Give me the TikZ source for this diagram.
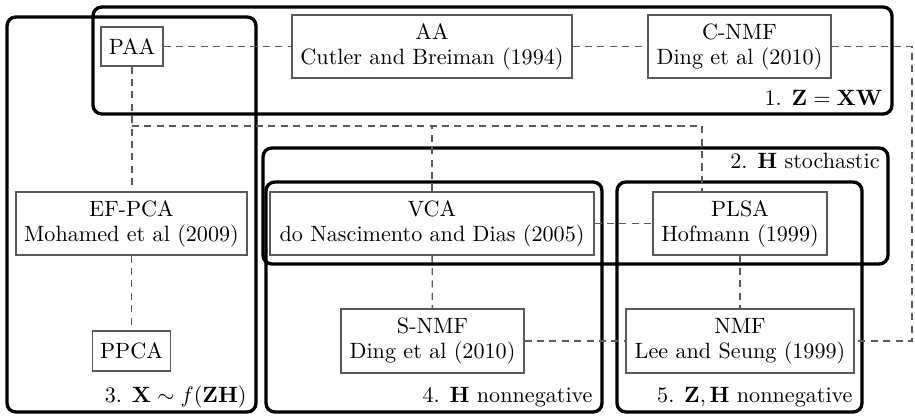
\documentclass[tikz,border=0pt]{standalone}
\begin{document}
\begin{tikzpicture}[x=0.4517pt,y=-0.4517pt,
  sz/.style 2 args={minimum width=#1*0.4517pt, minimum height=#2*0.4517pt},
  method/.style={draw=black!65, line width=0.5pt, inner sep=0pt, align=center,
    font=\fontsize{10}{11.3}\selectfont},
  group/.style={draw=black, line width=1.5pt, rounded corners=4pt},
  grouplabel/.style={anchor=base east, inner sep=0pt, font=\fontsize{10}{12}\selectfont},
  link/.style={draw=black!65, line width=0.6pt, dash pattern=on 3.2pt off 2.4pt}]
\useasboundingbox (0,0) rectangle (915,415);

% groups
\draw[group] (93,7) rectangle (892,114);
\draw[group] (7,17) rectangle (256,412);
\draw[group] (263,148) rectangle (888,264);
\draw[group] (266,182) rectangle (602,412);
\draw[group] (617,182) rectangle (862,412);

\node[grouplabel] (l1) at (883,105) {1. $\mathbf{Z}=\mathbf{XW}$};
\node[grouplabel] (l2) at (880,168) {2. $\mathbf{H}$ stochastic};
\node[grouplabel] (l3) at (247,402) {3. $\mathbf{X}\sim f(\mathbf{ZH})$};
\node[grouplabel] (l4) at (593,402) {4. $\mathbf{H}$ nonnegative};
\node[grouplabel] (l5) at (853,402) {5. $\mathbf{Z},\mathbf{H}$ nonnegative};

% methods
\node[method, sz={62}{39}] (paa) at (132,46.5) {PAA};
\node[method, sz={280}{63}] (aa) at (432,46.5) {AA\\Cutler and Breiman (1994)};
\node[method, sz={183}{63}] (cnmf) at (739.5,46.5) {C-NMF\\Ding et al (2010)};
\node[method, sz={231}{63}] (efpca) at (131.5,223.5) {EF-PCA\\Mohamed et al (2009)};
\node[method, sz={324}{63}] (vca) at (432,223.5) {VCA\\do Nascimento and Dias (2005)};
\node[method, sz={174}{63}] (plsa) at (740,223.5) {PLSA\\Hofmann (1999)};
\node[method, sz={78}{40}] (ppca) at (131.5,351) {PPCA};
\node[method, sz={183}{64}] (snmf) at (432.5,341) {S-NMF\\Ding et al (2010)};
\node[method, sz={228}{64}] (nmf) at (740,341) {NMF\\Lee and Seung (1999)};

% connectors
\coordinate (j1) at (132,126);
\coordinate (j2) at (702,126);
\coordinate (r1) at (912,46.5);
\coordinate (r2) at (912,341);

\draw[link] (paa) -- (aa);
\draw[link] (aa) -- (cnmf);
\draw[link] (cnmf.east) -- (r1) -- (r2) -- (nmf.east);
\draw[link] (paa.south) -- (paa.south |- efpca.north);
\draw[link] (j1) -- (j2) -- (j2 |- plsa.north);
\draw[link] (vca.north) -- (vca.north |- j1);
\draw[link] (vca) -- (plsa);
\draw[link] (vca) -- (snmf);
\draw[link] (plsa) -- (nmf);
\draw[link] (efpca) -- (ppca);
\draw[link] (snmf) -- (nmf);
\end{tikzpicture}
\end{document}
